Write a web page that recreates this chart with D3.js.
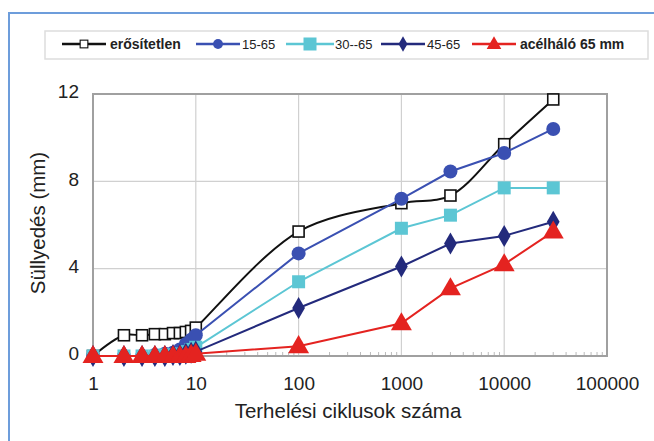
<!DOCTYPE html>
<html>
<style>
body { margin: 0; background: #fff; }
text { font-family: "Liberation Sans", Arial, sans-serif; fill: #222; }
.grid line { stroke: #d0d0d0; stroke-width: 1.2; }
.line { fill: none; stroke-width: 2; }
</style>
<head>
  <script src="https://d3js.org/d3.v7.min.js"></script>
</head>
<body>
<div id="chart"></div>
<script>
// cycles (x) and settlement in mm for each series
var cycles = [1, 2, 3, 4, 5, 6, 7, 8, 9, 10, 100, 1000, 3000, 10000, 30000];
var unreinforced = [0, 0.95, 0.95, 1.0, 1.0, 1.05, 1.05, 1.1, 1.15, 1.3, 5.7, 7.0, 7.35, 9.7, 11.75];
var s15_65 = [0, 0, 0, 0.05, 0.1, 0.15, 0.3, 0.55, 0.75, 0.95, 4.7, 7.2, 8.45, 9.3, 10.4];
var s30_65 = [0, 0, 0, 0, 0.05, 0.05, 0.1, 0.2, 0.3, 0.4, 3.4, 5.85, 6.45, 7.7, 7.7];
var s45_65 = [0, 0, 0, 0, 0, 0.05, 0.05, 0.1, 0.15, 0.2, 2.2, 4.1, 5.15, 5.5, 6.15];
var steel = [0, 0, 0, 0, 0, 0, 0, 0, 0.05, 0.1, 0.45, 1.5, 3.1, 4.2, 5.7];

var seriesNames = ["erősítetlen", "15-65", "30--65", "45-65", "acélháló 65 mm"];
var xTicks = [1, 10, 100, 1000, 10000, 100000];
var yTicks = [0, 4, 8, 12];

var series = [
  {name: seriesNames[0], values: unreinforced, color: "#111111", marker: "open", smooth: true},
  {name: seriesNames[1], values: s15_65, color: "#3a50b2", marker: "circle"},
  {name: seriesNames[2], values: s30_65, color: "#5cc6d4", marker: "square"},
  {name: seriesNames[3], values: s45_65, color: "#232a7c", marker: "diamond"},
  {name: seriesNames[4], values: steel, color: "#e42320", marker: "triangle"}
];

var W = 654, H = 441;
var svg = d3.select("#chart").append("svg")
  .attr("width", W).attr("height", H);

// outer blue frame (runs off the picture on right and bottom)
svg.append("rect")
  .attr("x", 9).attr("y", 13).attr("width", 700).attr("height", 500)
  .attr("fill", "none").attr("stroke", "#6d9ddb").attr("stroke-width", 2);

var x = d3.scaleLog().domain([1, 100000]).range([93, 607]);
var y = d3.scaleLinear().domain([0, 12]).range([356, 94]);

// gridlines
var grid = svg.append("g").attr("class", "grid");
grid.selectAll(".gx").data(xTicks.slice(1, -1)).enter().append("line")
  .attr("x1", d => x(d)).attr("x2", d => x(d))
  .attr("y1", y(0)).attr("y2", y(12));
grid.selectAll(".gy").data(yTicks.slice(1, -1)).enter().append("line")
  .attr("x1", x(1)).attr("x2", x(100000))
  .attr("y1", d => y(d)).attr("y2", d => y(d));

// minor log ticks on the bottom edge
var minors = [];
xTicks.slice(0, -1).forEach(function(d) {
  for (var k = 2; k <= 9; k++) minors.push(d * k);
});
svg.append("g").selectAll("line").data(minors).enter().append("line")
  .attr("x1", d => x(d)).attr("x2", d => x(d))
  .attr("y1", y(0)).attr("y2", y(0) - 4)
  .attr("stroke", "#bbb").attr("stroke-width", 1);

// plot border
svg.append("rect")
  .attr("x", x(1)).attr("y", y(12))
  .attr("width", x(100000) - x(1)).attr("height", y(0) - y(12))
  .attr("fill", "none").attr("stroke", "#a0a0a0").attr("stroke-width", 2);

// axes
var xAxis = svg.append("g")
  .attr("transform", "translate(0," + y(0) + ")")
  .call(d3.axisBottom(x).tickValues(xTicks).tickFormat(d3.format("d")).tickSize(0).tickPadding(21));
var yAxis = svg.append("g")
  .attr("transform", "translate(" + x(1) + ",0)")
  .call(d3.axisLeft(y).tickValues(yTicks).tickSize(0).tickPadding(14));
[xAxis, yAxis].forEach(function(a) {
  a.select(".domain").remove();
  a.selectAll("text").attr("font-size", 19).attr("fill", "#1a1a1a")
    .attr("font-family", "Liberation Sans, Arial, sans-serif");
});
yAxis.selectAll("text").attr("dy", "0.2em");

svg.append("text")
  .attr("x", 348).attr("y", 418).attr("text-anchor", "middle")
  .attr("font-size", 20.5).attr("fill", "#1a1a1a").text("Terhelési ciklusok száma");
svg.append("text")
  .attr("transform", "translate(45,223) rotate(-90)")
  .attr("text-anchor", "middle").attr("font-size", 20.5).attr("fill", "#1a1a1a").text("Süllyedés (mm)");

function drawMarker(g, type, color) {
  if (type === "open") {
    g.append("rect").attr("x", -5.5).attr("y", -5.5).attr("width", 11).attr("height", 11)
      .attr("fill", "#fff").attr("stroke", "#111").attr("stroke-width", 1.6);
  } else if (type === "circle") {
    g.append("circle").attr("r", 7).attr("fill", color);
  } else if (type === "square") {
    g.append("rect").attr("x", -6.5).attr("y", -6.5).attr("width", 13).attr("height", 13).attr("fill", color);
  } else if (type === "diamond") {
    g.append("path").attr("d", d3.symbol().type(d3.symbolDiamond).size(140)).attr("fill", color);
  } else {
    g.append("path").attr("d", d3.symbol().type(d3.symbolTriangle).size(190)).attr("fill", color)
      .attr("transform", "translate(0,1)");
  }
}

series.forEach(function(s) {
  var pts = cycles.map((c, i) => [c, s.values[i]]);
  var line = d3.line()
    .x(d => x(d[0])).y(d => y(d[1]))
    .curve(s.smooth ? d3.curveCatmullRom.alpha(0.5) : d3.curveLinear);
  svg.append("path").datum(pts).attr("class", "line")
    .attr("stroke", s.color).attr("d", line);
  var m = svg.append("g").selectAll("g").data(pts).enter().append("g")
    .attr("transform", d => "translate(" + x(d[0]) + "," + y(d[1]) + ")");
  m.each(function() { drawMarker(d3.select(this), s.marker, s.color); });
});

// legend
var lg = svg.append("g");
lg.append("rect").attr("x", 45).attr("y", 31).attr("width", 603).attr("height", 28)
  .attr("fill", "#fff").attr("stroke", "#ddd").attr("stroke-width", 1.5);
var legendPos = [
  {x0: 62, x1: 106, tx: 110, bold: true},
  {x0: 196, x1: 240, tx: 242, bold: false},
  {x0: 286, x1: 334, tx: 335, bold: false},
  {x0: 381, x1: 425, tx: 427, bold: false},
  {x0: 472, x1: 516, tx: 520, bold: true}
];
series.forEach(function(s, i) {
  var p = legendPos[i];
  var g = lg.append("g");
  g.append("line").attr("x1", p.x0).attr("x2", p.x1).attr("y1", 44).attr("y2", 44)
    .attr("stroke", s.color).attr("stroke-width", 2.5);
  var mk = g.append("g").attr("transform", "translate(" + (p.x0 + p.x1) / 2 + ",44) scale(" + (s.marker === "square" ? 1 : 0.7) + ")");
  drawMarker(mk, s.marker, s.color);
  g.append("text").attr("x", p.tx).attr("y", 49)
    .attr("font-size", p.bold ? 14 : 13).attr("font-weight", p.bold ? "bold" : "normal")
    .attr("fill", p.bold ? "#111" : "#444").text(s.name);
});
</script>
</body>
</html>
